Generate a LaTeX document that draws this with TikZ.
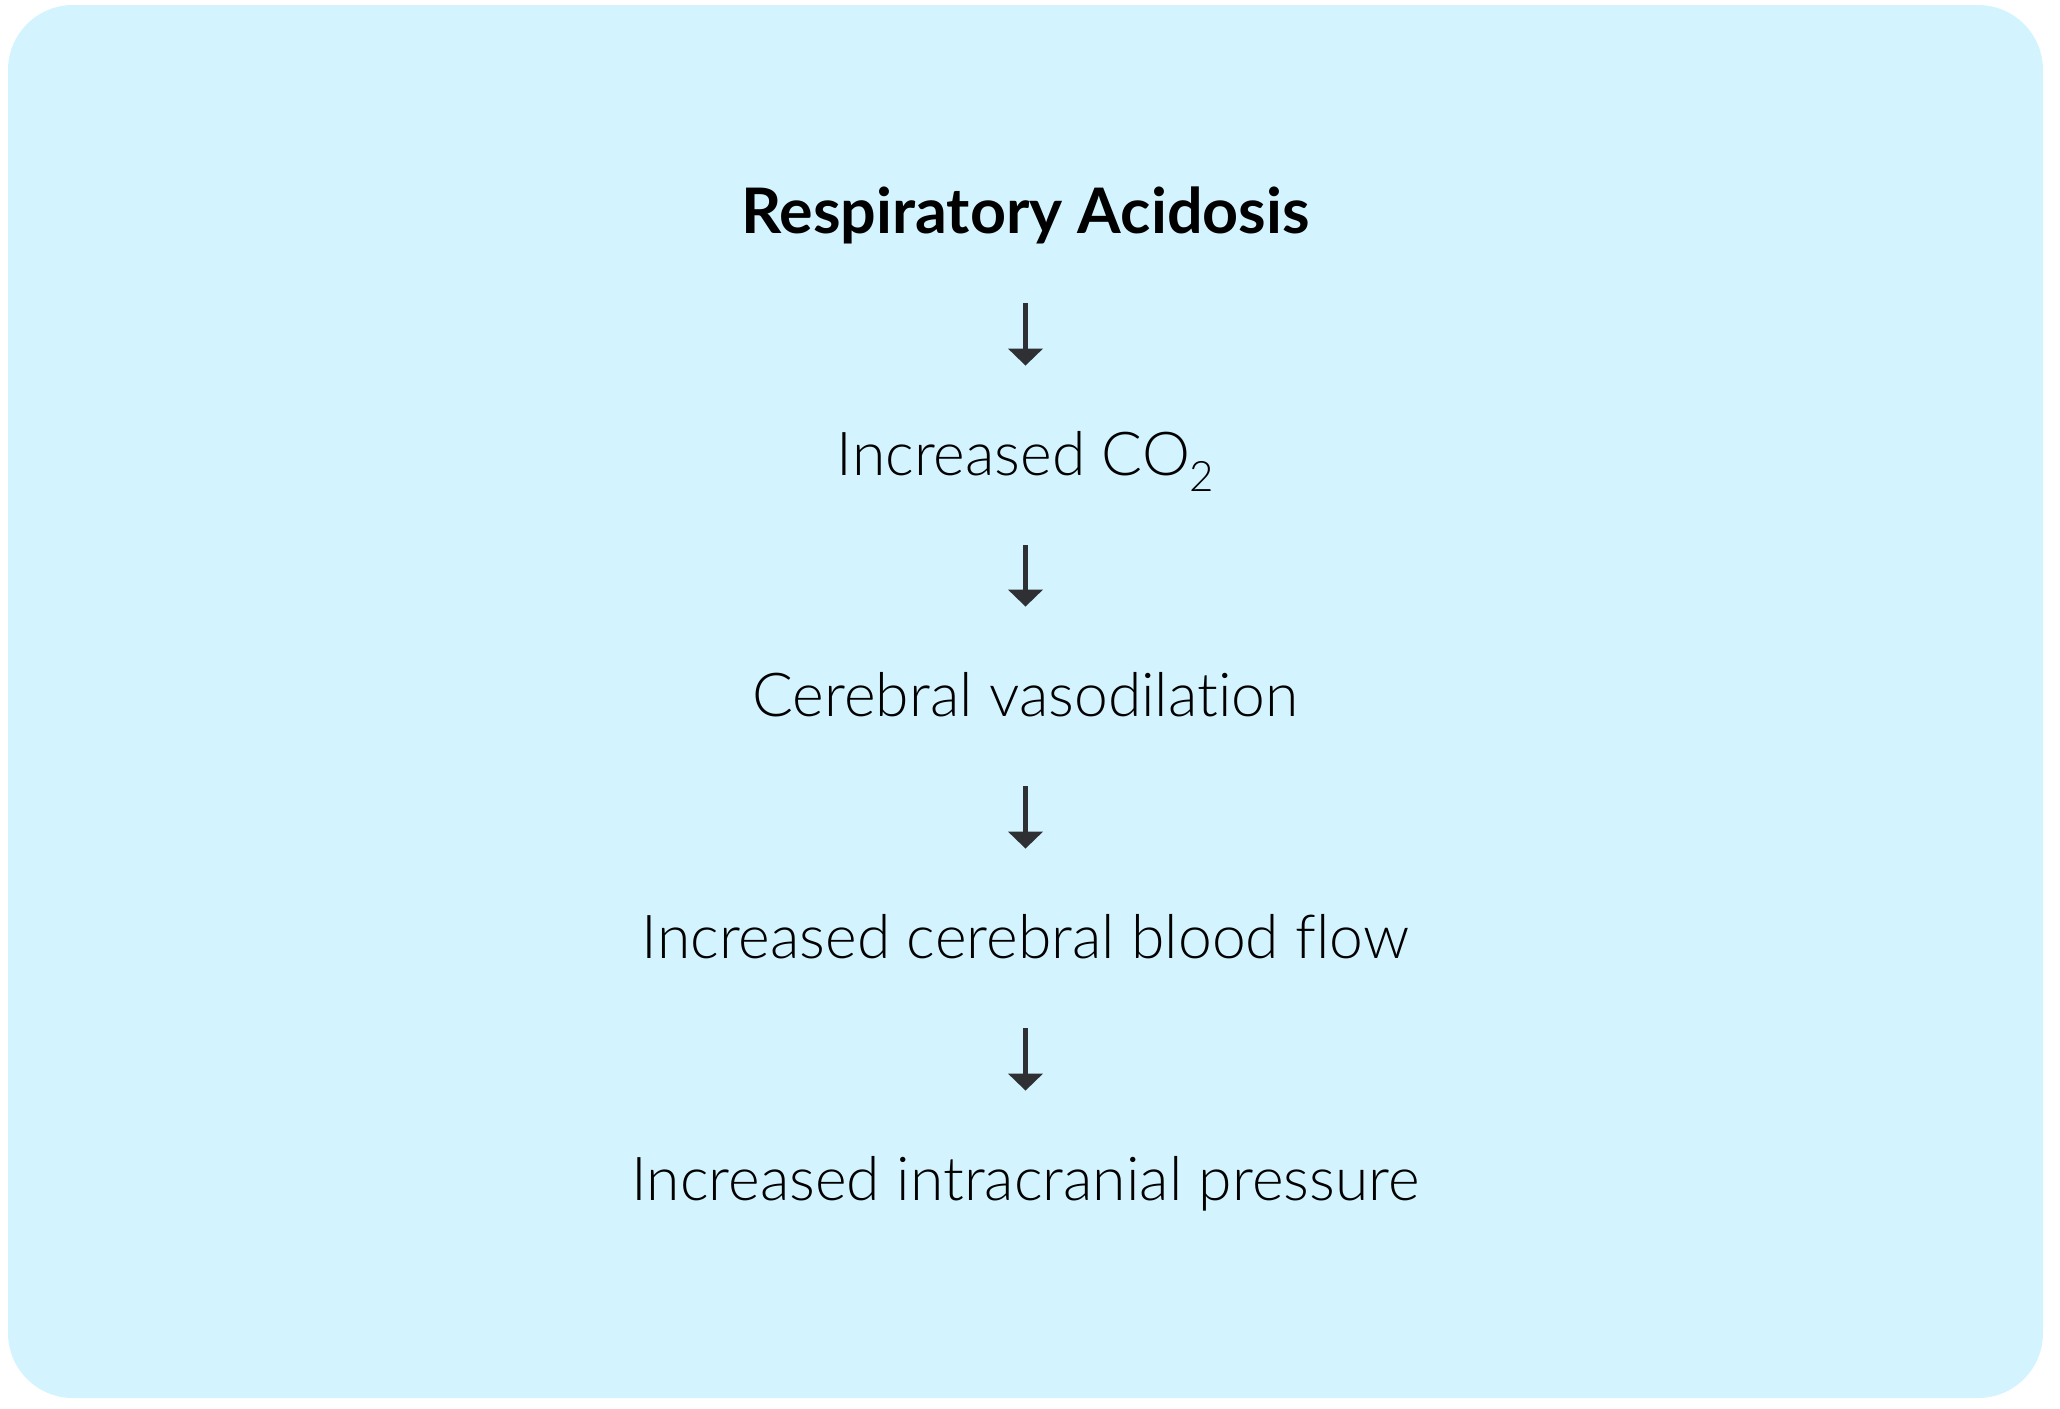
\documentclass[tikz,border=0pt]{standalone}
\usepackage{fontspec}
\setmainfont{Lato}
\newfontfamily\lightfont[Ligatures=NoCommon]{Lato Light}
\usetikzlibrary{arrows.meta}
\definecolor{bg}{HTML}{D3F4FE}
\definecolor{arrowc}{HTML}{2E3033}
\begin{document}
\begin{tikzpicture}[x=0.5pt,y=-0.5pt,
  flowtext/.style={inner sep=0pt, text height=22pt, text depth=0pt, anchor=base,
    font=\lightfont\fontsize{30.3}{36}\selectfont},
  titletext/.style={flowtext, font=\bfseries\fontsize{31.4}{36}\selectfont},
  flowarrow/.style={draw=arrowc, line width=2.5pt, -{Triangle[width=17pt,length=8.5pt]},
    shorten <=35pt, shorten >=32.5pt}]
\useasboundingbox (0,0) rectangle (2060,1408);
\fill[bg, rounded corners=32.5pt] (8,5) rectangle (2043,1398);
\node[titletext] (n0) at (1025.5,233) {Respiratory Acidosis};
\node[flowtext] (n1) at (1025.5,475) {Increased CO\raisebox{-8pt}{\fontsize{21}{24}\selectfont 2}};
\node[flowtext] (n2) at (1025.5,716) {Cerebral vasodilation};
\node[flowtext] (n3) at (1025.5,958) {Increased cerebral blood flow};
\node[flowtext] (n4) at (1025.5,1200) {Increased intracranial pressure};
\draw[flowarrow] (n0) -- (n1);
\draw[flowarrow] (n1) -- (n2);
\draw[flowarrow] (n2) -- (n3);
\draw[flowarrow] (n3) -- (n4);
\end{tikzpicture}
\end{document}
